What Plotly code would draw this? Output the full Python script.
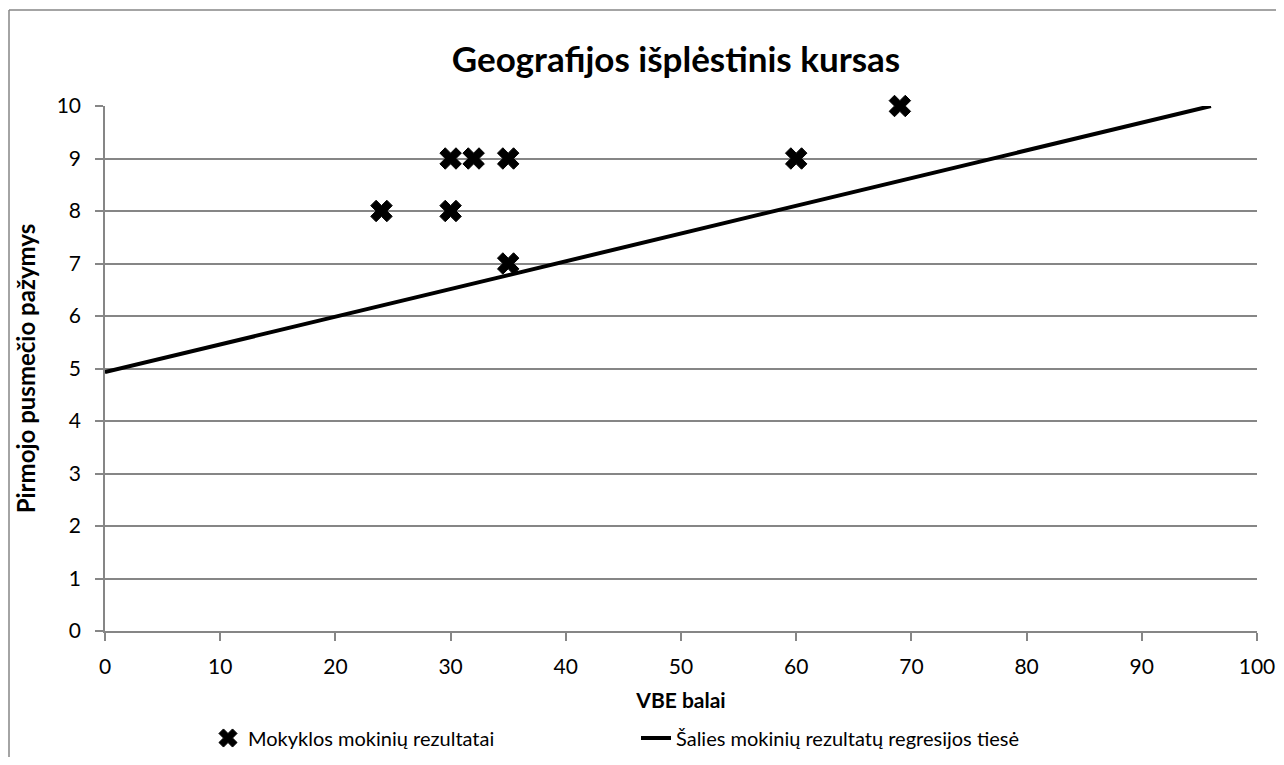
import plotly.graph_objects as go

# Data
school_x = [24, 30, 30, 32, 35, 35, 60, 69]
school_y = [8, 9, 8, 9, 9, 7, 9, 10]
reg_x = [0, 96]
reg_y = [4.93, 10]
x_ticks = [0, 10, 20, 30, 40, 50, 60, 70, 80, 90, 100]
y_ticks = [0, 1, 2, 3, 4, 5, 6, 7, 8, 9, 10]

FONT = "Lato"
GRAY = "#868686"

fig = go.Figure()
fig.add_trace(go.Scatter(
    x=school_x, y=school_y, mode="markers",
    name="Mokyklos mokinių rezultatai",
    marker=dict(symbol="x", size=19, color="black", line=dict(width=1, color="black")),
    cliponaxis=False,
))
fig.add_trace(go.Scatter(
    x=reg_x, y=reg_y, mode="lines",
    name="Šalies mokinių rezultatų regresijos tiesė",
    line=dict(color="black", width=4),
))

# page has an 8px body margin on every side
W, H = 1268, 749
L, T = 97, 98
pw, ph = 1152, 525
R = W - L - pw
B = H - T - ph
bx = (1 - L) / pw
by = (T + ph - 2) / ph

fig.update_layout(
    width=W, height=H,
    margin=dict(l=L, r=R, t=T, b=B, autoexpand=False),
    paper_bgcolor="white", plot_bgcolor="white",
    font=dict(family=FONT, size=21, color="black"),
    title=dict(text="<b>Geografijos išplėstinis kursas</b>", x=668 / W, xanchor="center",
               y=1 - 52 / H, yanchor="middle", font=dict(size=35, family=FONT)),
    showlegend=True,
    legend=dict(orientation="h", x=(200 - L) / pw, xanchor="left", y=-(730 - (T + ph)) / ph,
                yanchor="middle", font=dict(size=20), entrywidth=383, entrywidthmode="pixels",
                bgcolor="rgba(0,0,0,0)"),
    shapes=[
        dict(type="line", xref="paper", yref="paper", x0=bx, x1=bx, y0=-1, y1=by,
             line=dict(color=GRAY, width=1.5)),
        dict(type="line", xref="paper", yref="paper", x0=bx, x1=2, y0=by, y1=by,
             line=dict(color=GRAY, width=1.5)),
    ],
)
fig.update_xaxes(
    range=[0, 100], tickvals=x_ticks, ticks="outside", ticklen=8, tickcolor=GRAY, tickwidth=1.5,
    showline=True, linecolor=GRAY, linewidth=1.5, showgrid=False, zeroline=False,
    tickfont=dict(size=21), ticklabelstandoff=8, automargin=False,
    title=dict(text="<b>VBE balai</b>", font=dict(size=21), standoff=16),
)
fig.update_yaxes(
    range=[0, 10], tickvals=y_ticks, ticks="outside", ticklen=8, tickcolor=GRAY, tickwidth=1.5,
    showline=True, linecolor=GRAY, linewidth=1.5, showgrid=True, gridcolor=GRAY, gridwidth=1.5,
    zeroline=False, tickfont=dict(size=21), ticklabelstandoff=10, automargin=False,
    title=dict(text="<b>Pirmojo pusmečio pažymys</b>", font=dict(size=24), standoff=14),
)

fig.write_html("out.html")
